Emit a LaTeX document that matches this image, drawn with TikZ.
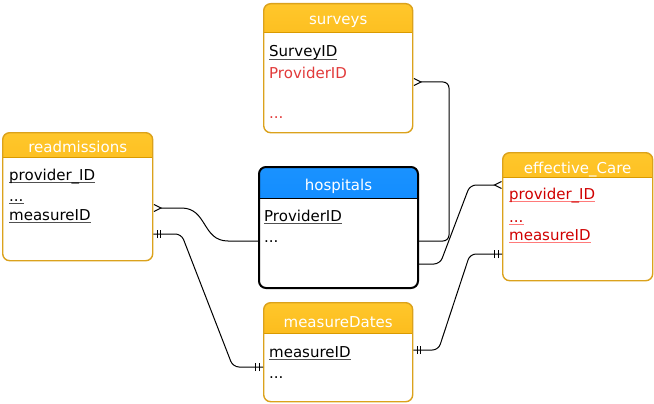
\documentclass[tikz,border=0pt]{standalone}
\usepackage{fontspec}
\setmainfont{DejaVu Sans}
\usetikzlibrary{arrows.meta,decorations.markings}

\definecolor{hdrtop}{HTML}{FFC72B}
\definecolor{hdrbot}{HTML}{F5A500}
\definecolor{hdrline}{HTML}{D99A00}
\definecolor{boxline}{HTML}{DBA21C}
\definecolor{bluetop}{HTML}{1A92FF}
\definecolor{bluebot}{HTML}{0080FF}
\definecolor{fkred}{HTML}{E23A3A}
\definecolor{keyred}{HTML}{D00000}
\definecolor{ulpink}{HTML}{FF7A7A}
\definecolor{ulgray}{HTML}{505050}

\newlength\ulwd
\newcommand\ulfield[3]{\settowidth\ulwd{#3}\rlap{\textcolor{#2}{\rule[-3pt]{\ulwd}{1.2pt}}}\textcolor{#1}{#3}}

\tikzset{
  entity/.style={draw=boxline, line width=1.4pt, rounded corners=7pt, fill=white,
    anchor=north west, inner sep=0pt},
  header/.style n args={4}{path picture={
    \fill[sharp corners, top color=#2, bottom color=#3]
      (path picture bounding box.north west) rectangle ([yshift=-#1]path picture bounding box.north east);
    \draw[sharp corners, #4, line width=1pt]
      ([yshift=-#1]path picture bounding box.north west) -- ([yshift=-#1]path picture bounding box.north east);}},
  orangebox/.style={entity, header={#1}{hdrtop}{hdrbot}{hdrline}},
  bluebox/.style={entity, draw=black, line width=2pt, header={#1}{bluetop}{bluebot}{black}},
  title/.style={text=white, anchor=base, inner sep=0pt, font=\fontsize{15}{18}\selectfont},
  field/.style={anchor=base west, inner sep=0pt, font=\fontsize{15}{18}\selectfont},
  rel/.style={draw, line width=1pt, rounded corners=6pt},
  crow/.style={-{Straight Barb[reversed, length=7pt, width=7pt]}},
  barsend/.style={postaction={decorate, decoration={markings,
    mark=at position -4pt with {\draw[line width=1pt] (0,-4pt) -- (0,4pt);},
    mark=at position -7.5pt with {\draw[line width=1pt] (0,-4pt) -- (0,4pt);}}}},
  barsstart/.style={postaction={decorate, decoration={markings,
    mark=at position 4pt with {\draw[line width=1pt] (0,-4pt) -- (0,4pt);},
    mark=at position 7.5pt with {\draw[line width=1pt] (0,-4pt) -- (0,4pt);}}}}
}

\begin{document}
\begin{tikzpicture}[x=1pt, y=-1pt]
    \useasboundingbox (0,0) rectangle (654,404);

    % surveys
    \node[orangebox=29pt, minimum width=149pt, minimum height=129pt] (surveys) at (263,3) {};
    \node[title] (surveys title) at ([yshift=-22pt]surveys.north) {surveys};
    \node[field] (svid) at ([shift={(6,54)}]surveys.north west) {\ulfield{black}{ulgray}{SurveyID}};
    \node[field] (svpid) at ([shift={(6,75)}]surveys.north west) {\textcolor{fkred}{ProviderID}};
    \node[field] (svdots) at ([shift={(6,115)}]surveys.north west) {\textcolor{fkred}{...}};

    % readmissions
    \node[orangebox=25pt, minimum width=150pt, minimum height=128pt] (readmissions) at (2,132) {};
    \node[title] (readm title) at ([yshift=-21pt]readmissions.north) {readmissions};
    \node[field] (rpid) at ([shift={(7,48)}]readmissions.north west) {\ulfield{black}{ulgray}{provider\_ID}};
    \node[field] (rdots) at ([shift={(7,69)}]readmissions.north west) {\ulfield{black}{ulgray}{...}};
    \node[field] (rmid) at ([shift={(7,88)}]readmissions.north west) {\ulfield{black}{ulgray}{measureID}};

    % hospitals
    \node[bluebox=31pt, minimum width=159pt, minimum height=121pt] (hospitals) at (258,166) {};
    \node[title] (hosp title) at ([yshift=-24pt]hospitals.north) {hospitals};
    \node[field] (hpid) at ([shift={(6,55)}]hospitals.north west) {\ulfield{black}{ulgray}{ProviderID}};
    \node[field] (hdots) at ([shift={(6,76)}]hospitals.north west) {...};

    % effective_Care
    \node[orangebox=25pt, minimum width=150pt, minimum height=128pt] (effective) at (502,152) {};
    \node[title] (eff title) at ([yshift=-21pt]effective.north) {effective\_Care};
    \node[field] (epid) at ([shift={(7,47)}]effective.north west) {\ulfield{keyred}{ulpink}{provider\_ID}};
    \node[field] (edots) at ([shift={(7,70)}]effective.north west) {\ulfield{keyred}{ulpink}{...}};
    \node[field] (emid) at ([shift={(7,88)}]effective.north west) {\ulfield{keyred}{ulpink}{measureID}};

    % measureDates
    \node[orangebox=31pt, minimum width=149pt, minimum height=99pt] (dates) at (263,302) {};
    \node[title] (dates title) at ([yshift=-25pt]dates.north) {measureDates};
    \node[field] (dmid) at ([shift={(6,55)}]dates.north west) {\ulfield{black}{ulgray}{measureID}};
    \node[field] (ddots) at ([shift={(6,76)}]dates.north west) {...};

    % relations
    \draw[rel, crow] ([yshift=-75pt]hospitals.north east) -- ++(30,0) |- ([yshift=-79pt]surveys.north east);
    \draw[rel, crow] ([yshift=-98pt]hospitals.north east) -- ++(21,0)
        -- ([shift={(-32,33)}]effective.north west) -- ([yshift=-33pt]effective.north west);
    \draw[rel, barsstart, barsend] ([yshift=-48pt]dates.north east) -- ++(25,0)
        -- ([shift={(-32,102)}]effective.north west) -- ([yshift=-102pt]effective.north west);
    \draw[rel, crow] ([yshift=-75pt]hospitals.north west) -- ++(-24,0)
        .. controls +(-32,0) and +(32,0) .. ([shift={(22,76)}]readmissions.north east)
        -- ([yshift=-76pt]readmissions.north east);
    \draw[rel, barsstart, barsend] ([yshift=-102pt]readmissions.north east) -- ++(28,0)
        -- ([shift={(-30,65)}]dates.north west) -- ([yshift=-65pt]dates.north west);
\end{tikzpicture}
\end{document}
